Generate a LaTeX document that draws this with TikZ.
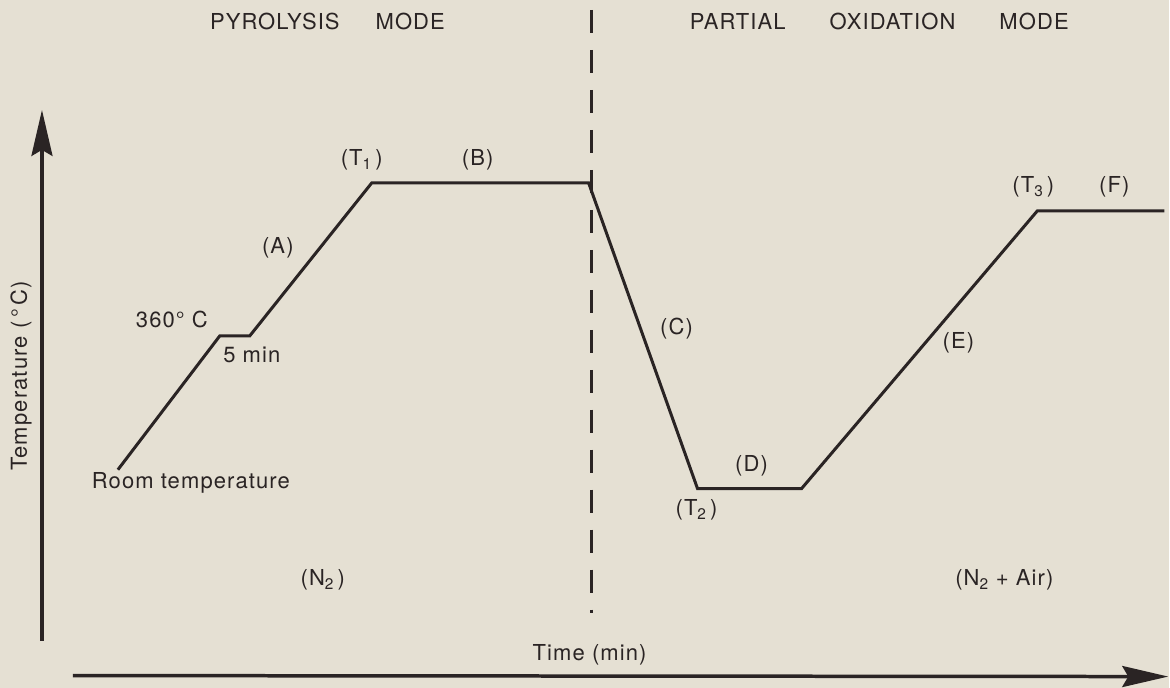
\documentclass[tikz,border=0pt]{standalone}
\usepackage{fontspec}
\setmainfont{TeX Gyre Heros}[LetterSpace=5]
\usepackage{tikz}
\usetikzlibrary{arrows.meta}

\definecolor{paper}{RGB}{229,224,211}
\definecolor{ink}{RGB}{42,36,36}

\begin{document}
\begin{tikzpicture}[x=1pt,y=-1pt,
  lbl/.style={inner sep=0pt,text=ink,font=\fontsize{22}{26}\selectfont},
  axis/.style={draw=ink,line width=3.5pt,-{Stealth[length=46pt,width=21pt,inset=6pt]}},
  ramp/.style={draw=ink,line width=3pt,line join=miter},
  split/.style={draw=ink,line width=2.5pt,dash pattern=on 23pt off 17pt}]
  \fill[paper] (0,0) rectangle (1170,688);

  \coordinate (yfoot) at (42,641);
  \coordinate (ytip) at (42,110);
  \coordinate (xfoot) at (73,676);
  \coordinate (xtip) at (1169,677);
  \draw[axis] (yfoot) -- (ytip);
  \draw[axis] (xfoot) -- (xtip);

  \coordinate (dtop) at (592,10);
  \coordinate (dbot) at (592,613);
  \draw[split] (dtop) -- (dbot);

  \coordinate (room) at (118,470);
  \coordinate (h1) at (220,336);
  \coordinate (h2) at (250,336);
  \coordinate (t1) at (372,183);
  \coordinate (b2) at (589,183);
  \coordinate (t2) at (698,489);
  \coordinate (d2) at (802,489);
  \coordinate (t3) at (1038,211);
  \coordinate (f2) at (1165,211);
  \draw[ramp] (room) -- (h1) -- (h2) -- (t1) -- (b2) -- (t2) -- (d2) -- (t3) -- (f2);

  \node[lbl,anchor=west] (pyro) at (210,22) {PYROLYSIS\hspace{36pt}MODE};
  \node[lbl,anchor=west] (pox) at (690,22) {PARTIAL\hspace{44pt}OXIDATION\hspace{44pt}MODE};
  \node[lbl,rotate=90] (ylab) at (21,376) {Temperature\hspace{0.35em}(\,°\,C)};
  \node[lbl] (xlab) at (590,655) {Time (min)};

  \node[lbl] (rtlab) at (191,483) {Room temperature};
  \node[lbl] (hold) at (172,320) {360° C};
  \node[lbl] (five) at (252,355) {5 min};
  \node[lbl] (alab) at (278,248) {(A)};
  \node[lbl] (t1lab) at (362,160) {(T\textsubscript{1}\,)};
  \node[lbl] (blab) at (478,160) {(B)};
  \node[lbl] (clab) at (677,329) {(C)};
  \node[lbl] (dlab) at (752,466) {(D)};
  \node[lbl] (t2lab) at (697,510) {(T\textsubscript{2}\,)};
  \node[lbl] (elab) at (959,343) {(E)};
  \node[lbl] (t3lab) at (1034,187) {(T\textsubscript{3}\,)};
  \node[lbl] (flab) at (1115,187) {(F)};
  \node[lbl] (nlab) at (323,580) {(N\textsubscript{2}\,)};
  \node[lbl] (nalab) at (1005,580) {(N\textsubscript{2} + Air)};
\end{tikzpicture}
\end{document}
